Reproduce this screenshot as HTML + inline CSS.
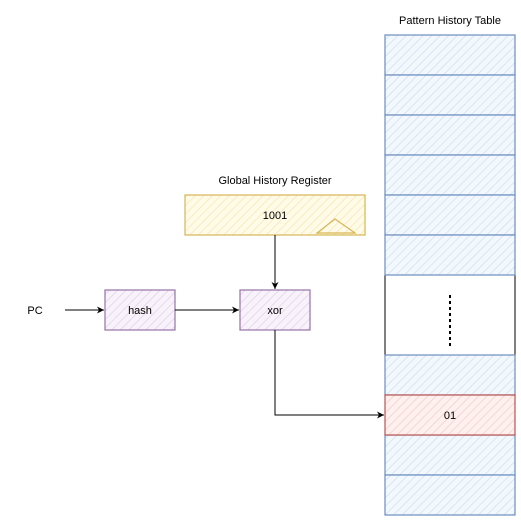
<!DOCTYPE html>
<html><head><style>body{margin:0;background:#fff}svg{display:block}text{font-family:"Liberation Sans",sans-serif;font-size:11px;fill:#000}</style></head><body>
<svg width="521" height="521" viewBox="0 0 521 521">
<defs>
<pattern id="hb" width="6" height="6" patternUnits="userSpaceOnUse" patternTransform="rotate(45)"><rect width="6" height="6" fill="#f3f8fd"/><line x1="0" y1="0" x2="0" y2="6" stroke="#cfe0f3" stroke-width="1.5"/></pattern>
<pattern id="hy" width="6" height="6" patternUnits="userSpaceOnUse" patternTransform="rotate(45)"><rect width="6" height="6" fill="#fffbe8"/><line x1="0" y1="0" x2="0" y2="6" stroke="#f6e7b0" stroke-width="1.5"/></pattern>
<pattern id="hp" width="6" height="6" patternUnits="userSpaceOnUse" patternTransform="rotate(45)"><rect width="6" height="6" fill="#f8f2fa"/><line x1="0" y1="0" x2="0" y2="6" stroke="#e3d2ea" stroke-width="1.5"/></pattern>
<pattern id="hr" width="6" height="6" patternUnits="userSpaceOnUse" patternTransform="rotate(45)"><rect width="6" height="6" fill="#fdf0ee"/><line x1="0" y1="0" x2="0" y2="6" stroke="#f3cfc9" stroke-width="1.5"/></pattern>
<marker id="ar" markerWidth="8" markerHeight="8" refX="7" refY="4" orient="auto" markerUnits="userSpaceOnUse"><path d="M0,0.5 L7,4 L0,7.5 L2,4 Z" fill="#000"/></marker>
</defs>
<text x="450" y="24" text-anchor="middle">Pattern History Table</text>
<rect x="385" y="275" width="130" height="80" fill="#fff" stroke="#000"/>
<g stroke="#6c8ebf" stroke-width="1.2" fill="url(#hb)">
<rect x="385" y="35" width="130" height="40"/><rect x="385" y="75" width="130" height="40"/><rect x="385" y="115" width="130" height="40"/><rect x="385" y="155" width="130" height="40"/><rect x="385" y="195" width="130" height="40"/><rect x="385" y="235" width="130" height="40"/><rect x="385" y="355" width="130" height="40"/><rect x="385" y="435" width="130" height="40"/><rect x="385" y="475" width="130" height="40"/>
</g>
<rect x="385" y="395" width="130" height="40" fill="url(#hr)" stroke="#b85450" stroke-width="1.2"/>
<text x="450" y="419" text-anchor="middle">01</text>
<line x1="450" y1="295" x2="450" y2="346" stroke="#000" stroke-width="2" stroke-dasharray="3,3"/>
<text x="275" y="184" text-anchor="middle">Global History Register</text>
<rect x="185" y="195" width="180" height="40" fill="url(#hy)" stroke="#d6b656" stroke-width="1.2"/>
<text x="275" y="219" text-anchor="middle">1001</text>
<path d="M317,233 L335,219 L355,233 Z" fill="none" stroke="#d6b656" stroke-width="1.2"/>
<rect x="105" y="290" width="70" height="40" fill="url(#hp)" stroke="#9673a6" stroke-width="1.2"/>
<text x="140" y="314" text-anchor="middle">hash</text>
<rect x="240" y="290" width="70" height="40" fill="url(#hp)" stroke="#9673a6" stroke-width="1.2"/>
<text x="275" y="314" text-anchor="middle">xor</text>
<text x="35" y="314" text-anchor="middle">PC</text>
<g stroke="#000" fill="none" stroke-width="1">
<line x1="65" y1="310" x2="104" y2="310" marker-end="url(#ar)"/>
<line x1="175" y1="310" x2="239" y2="310" marker-end="url(#ar)"/>
<line x1="275" y1="235" x2="275" y2="289" marker-end="url(#ar)"/>
<path d="M275,330 L275,415 L384,415" marker-end="url(#ar)"/>
</g>
</svg></body></html>
